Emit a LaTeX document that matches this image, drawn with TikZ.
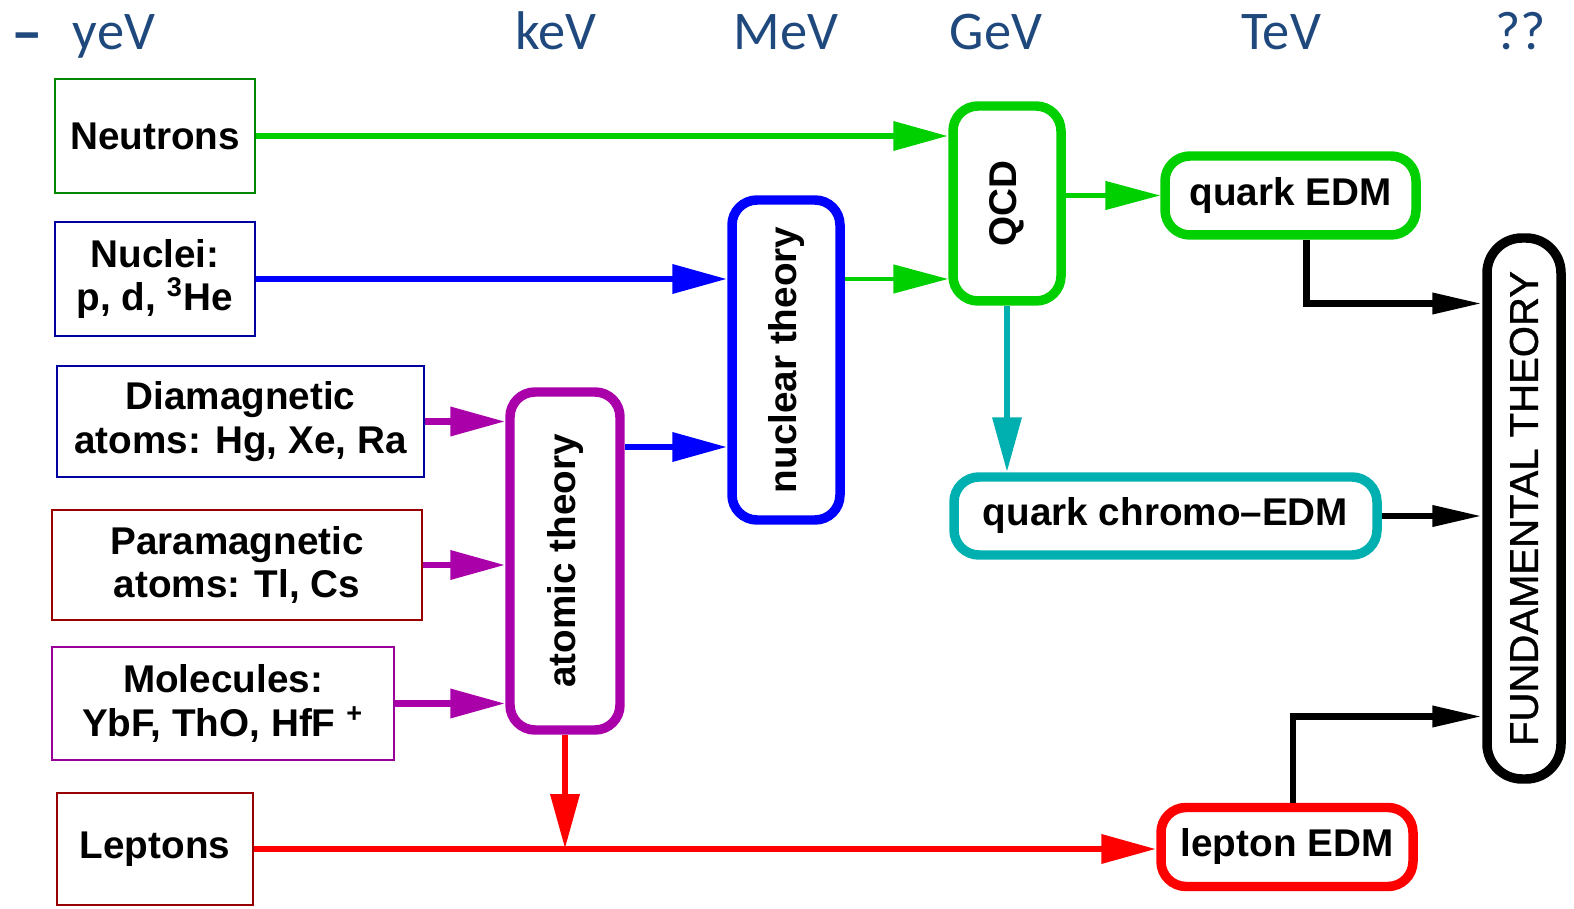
\documentclass[tikz,border=0pt]{standalone}
\usepackage{fontspec}
\setmainfont{Liberation Sans}
\newfontfamily\headfont{Carlito}
\newfontfamily\fundfont[FakeBold=1]{Liberation Sans}
\usetikzlibrary{arrows.meta}

\definecolor{headblue}{HTML}{1F497D}
\definecolor{lgreen}{HTML}{00D000}
\definecolor{dgreen}{HTML}{008800}
\definecolor{lblue}{HTML}{0000FF}
\definecolor{dblue}{HTML}{0000A0}
\definecolor{lpurple}{HTML}{AA00AA}
\definecolor{dpurple}{HTML}{990099}
\definecolor{lred}{HTML}{FF0000}
\definecolor{dred}{HTML}{990000}
\definecolor{qteal}{HTML}{00B0B0}

\tikzset{
  srcbox/.style={draw, line width=0.75pt, align=center, inner sep=0pt,
    font=\bfseries\fontsize{11}{12.5}\selectfont},
  theory/.style={draw, line width=2.7pt, rounded corners=2.5mm, inner sep=0pt,
    font=\bfseries\fontsize{11}{13}\selectfont},
  flow/.style={line width=1.95pt, -{Triangle[length=5.5mm,width=2.8mm]}},
  thinflow/.style={line width=1.3pt, -{Triangle[length=5.5mm,width=2.8mm]}},
  blackflow/.style={line width=1.95pt, -{Triangle[length=5mm,width=2mm]}},
  scalelabel/.style={font=\headfont\fontsize{15.5}{18}\selectfont, text=headblue},
}

\begin{document}
\begin{tikzpicture}[x=0.1mm,y=-0.1mm]
  \useasboundingbox (0,0) rectangle (1574,909);

  % Energy scale
  \node[scalelabel, font=\headfont\bfseries\fontsize{18}{20}\selectfont, anchor=base, inner sep=0pt] (dash) at (27,54) {–};
  \foreach \x/\t [count=\i] in {114/yeV,556/keV,786/MeV,996/GeV,1281/TeV,1521/??}
    \node[scalelabel, anchor=base] (head\i) at (\x,50) {\t};

  % Experimental systems
  \node[srcbox, dgreen, text=black, minimum width=20mm, minimum height=11.4mm] (neut) at (155,136) {Neutrons};
  \node[srcbox, dblue, text=black, minimum width=20mm, minimum height=11.4mm] (nuclei) at (155,279) {Nuclei:\\p, d, \textsuperscript{3}He};
  \node[srcbox, dblue, text=black, minimum width=36.7mm, minimum height=11.1mm] (dia) at (240.5,421.5) {Diamagnetic\\atoms: Hg, Xe, Ra};
  \node[srcbox, dred, text=black, minimum width=37mm, minimum height=11mm] (para) at (237,565) {Paramagnetic\\atoms: Tl, Cs};
  \node[srcbox, dpurple, text=black, minimum width=34.2mm, minimum height=11.3mm] (mol) at (223,703.5) {Molecules:\\YbF, ThO, HfF~\textsuperscript{+}};
  \node[srcbox, dred, text=black, minimum width=19.6mm, minimum height=11.2mm] (lept) at (155,849) {Leptons};

  % Theory boxes
  \node[theory, lpurple, text=black, minimum width=11mm, minimum height=33.8mm] (atomic) at (565,561) {\rotatebox{90}{atomic theory}};
  \node[theory, lblue, text=black, minimum width=10.8mm, minimum height=32mm] (nuclth) at (786,360) {\rotatebox{90}{nuclear theory}};
  \node[theory, lgreen, text=black, minimum width=10.8mm, minimum height=19.5mm] (qcd) at (1007,203.5) {\rotatebox{90}{QCD}};
  \node[theory, lgreen, text=black, minimum width=25.1mm, minimum height=7.9mm] (qedm) at (1290.5,195.5) {quark EDM};
  \node[theory, qteal, text=black, minimum width=42.3mm, minimum height=7.8mm] (chromo) at (1165.5,516) {quark chromo--EDM};
  \node[theory, lred, text=black, minimum width=25.2mm, minimum height=7.9mm] (ledm) at (1287,847) {lepton EDM};
  \node[theory, black, rounded corners=3.5mm, font=\fundfont\fontsize{11.4}{13}\selectfont, minimum width=7.4mm, minimum height=54.1mm] (fund) at (1524,508.5) {\rotatebox{90}{FUNDAMENTAL THEORY}};

  % Connections
  \draw[flow, lgreen] (neut.east) -- (neut.east -| qcd.west);
  \draw[flow, lblue] (nuclei.east) -- (nuclei.east -| nuclth.west);
  \draw[thinflow, lgreen] (nuclei.east -| nuclth.east) -- (nuclei.east -| qcd.west);
  \draw[thinflow, lgreen] (qedm.west -| qcd.east) -- (qedm.west);
  \draw[flow, qteal] (qcd.south) -- (qcd.south |- chromo.north);
  \foreach \s in {dia,para,mol}
    \draw[flow, lpurple] (\s.east) -- (\s.east -| atomic.west);
  \draw[flow, lblue] ([yshift=11.4mm]atomic.east) -- ([yshift=11.4mm]atomic.east -| nuclth.west);
  \draw[flow, lred] (atomic.south) -- (atomic.south |- lept.east);
  \draw[flow, lred] (lept.east) -- (lept.east -| ledm.west);
  \draw[blackflow] ([xshift=1.6mm]qedm.south) |- ([yshift=20.5mm]fund.west);
  \draw[blackflow] (chromo.east) -- (chromo.east -| fund.west);
  \draw[blackflow] ([xshift=0.6mm]ledm.north) |- ([yshift=-20.8mm]fund.west);
\end{tikzpicture}
\end{document}
